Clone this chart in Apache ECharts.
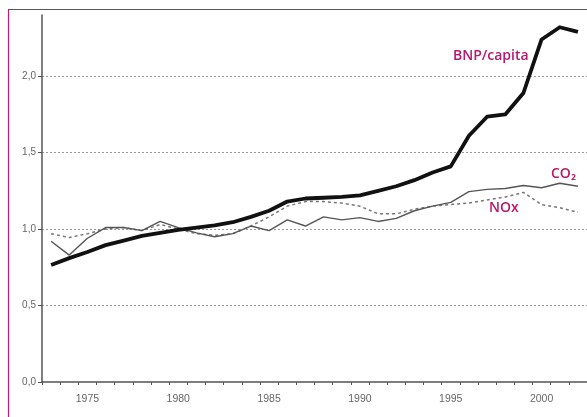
<!DOCTYPE html>
<html>
<head>
<meta charset="utf-8">
<script src="https://cdn.jsdelivr.net/npm/echarts@6/dist/echarts.min.js"></script>
<style>
html,body{margin:0;padding:0;background:#fff;}
#chart{width:587px;height:417px;}
</style>
</head>
<body>
<div id="chart"></div>
<script>
const years = [];
for (let y = 1973; y <= 2002; y++) years.push(String(y));

const yTickLabels = {0: '0,0', 0.5: '0,5', 1: '1,0', 1.5: '1,5', 2: '2,0'};

const bnpCapita = [0.765,0.81,0.85,0.895,0.925,0.955,0.975,0.995,1.01,1.025,1.045,1.08,1.12,1.18,1.20,1.205,1.21,1.22,1.25,1.28,1.32,1.37,1.41,1.61,1.735,1.75,1.89,2.24,2.32,2.29];
const co2 = [0.92,0.83,0.94,1.01,1.01,0.99,1.05,1.01,0.975,0.95,0.97,1.02,0.99,1.06,1.02,1.08,1.06,1.075,1.05,1.07,1.12,1.15,1.175,1.245,1.26,1.265,1.285,1.27,1.30,1.28];
const nox = [0.97,0.945,0.97,1.00,1.01,0.99,1.03,1.00,0.97,0.96,0.97,1.02,1.08,1.15,1.18,1.18,1.17,1.15,1.10,1.10,1.13,1.15,1.16,1.17,1.19,1.21,1.24,1.16,1.14,1.11];

const seriesNames = ['BNP/capita', 'CO₂', 'NOx'];

const chart = echarts.init(document.getElementById('chart'), null, {renderer: 'canvas'});
const magenta = '#b8176e';
chart.setOption({
  animation: false,
  backgroundColor: '#fff',
  grid: {left: 42, top: 15, width: 549, height: 367, containLabel: false},
  xAxis: {
    type: 'category',
    data: years,
    boundaryGap: true,
    axisLine: {lineStyle: {color: '#555', width: 1.5}},
    axisTick: {show: true, interval: 0, length: 3, lineStyle: {color: '#555'}},
    axisLabel: {
      interval: (i, v) => Number(v) % 5 === 0,
      color: '#666', fontSize: 10.5, fontFamily: 'Liberation Sans', margin: 12
    },
    splitLine: {show: false}
  },
  yAxis: {
    type: 'value',
    min: 0, max: 2.4, interval: 0.5,
    axisLine: {show: true, lineStyle: {color: '#555', width: 1.5}},
    axisTick: {show: true, length: 4, lineStyle: {color: '#555'}},
    axisLabel: {
      showMaxLabel: false,
      formatter: v => (yTickLabels[v] !== undefined ? yTickLabels[v] : ''),
      color: '#666', fontSize: 10, fontFamily: 'Liberation Sans', margin: 6
    },
    splitLine: {show: true, showMinLine: false, showMaxLine: false, lineStyle: {color: '#999', type: [2, 2], width: 1}}
  },
  series: [
    {name: seriesNames[2], type: 'line', data: nox, symbol: 'none',
     lineStyle: {color: '#777', width: 1.5, type: [3, 3]}, z: 2},
    {name: seriesNames[1], type: 'line', data: co2, symbol: 'none',
     lineStyle: {color: '#555', width: 1.4}, z: 3},
    {name: seriesNames[0], type: 'line', data: bnpCapita, symbol: 'none',
     lineStyle: {color: '#111', width: 3.8, join: 'round'}, z: 4}
  ],
  graphic: [
    {type: 'rect', shape: {x: 8.5, y: 9.5, width: 620, height: 430},
     style: {fill: 'none', stroke: '#c4197a', lineWidth: 1.2}, silent: true, z: 100},
    {type: 'text', x: 453, y: 49,
     style: {text: 'BNP/capita', fill: magenta, font: '600 14px "Open Sans"'}, z: 100},
    {type: 'text', x: 551, y: 167,
     style: {text: 'CO₂', fill: magenta, font: '600 14px "Open Sans"'}, z: 100},
    {type: 'text', x: 489, y: 201,
     style: {text: 'NOx', fill: magenta, font: '600 14px "Open Sans"'}, z: 100}
  ]
});
</script>
</body>
</html>
